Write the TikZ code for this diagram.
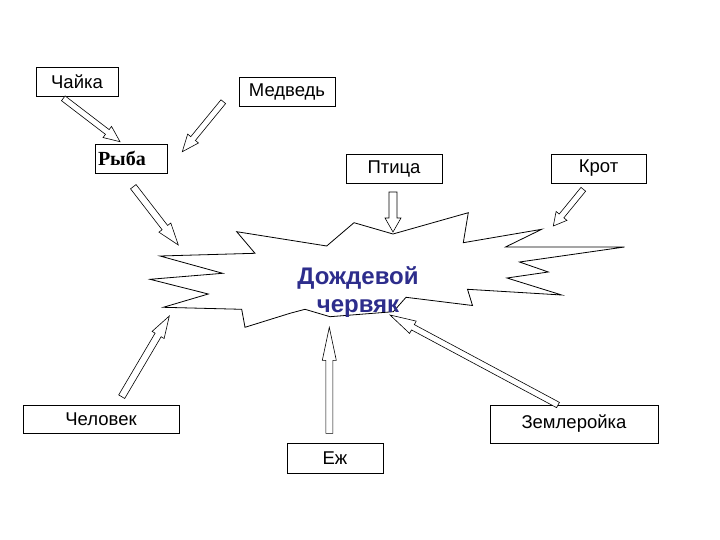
\documentclass[tikz,border=0pt]{standalone}
\usepackage{fontspec}
\setmainfont{Liberation Sans}
\newfontfamily\serifb{Liberation Serif}
\usetikzlibrary{calc}
\definecolor{wormblue}{RGB}{45,45,140}
\newcommand{\blockarr}[5]{%
  \coordinate (bN) at ($(#2)!#3!(#1)$);
  \draw[arrline] ($(#1)!#4!90:(#2)$) -- ($(bN)!#4!90:(#2)$) -- ($(bN)!#5!90:(#2)$)
    -- (#2) -- ($(bN)!#5!-90:(#2)$) -- ($(bN)!#4!-90:(#2)$) -- ($(#1)!#4!-90:(#2)$) -- cycle;
}
\begin{document}
\begin{tikzpicture}[x=1pt,y=-1pt,
  box/.style={draw, line width=0.7pt, inner sep=0pt, font=\fontsize{18.5}{22}\selectfont},
  arrline/.style={draw, line width=0.6pt, fill=white, line join=miter},
  burst/.style={draw, line width=0.8pt, fill=white}]
\useasboundingbox[fill=white] (0,0) rectangle (720,540);

% boxes
\node[box, minimum width=82pt, minimum height=29pt] (chaika) at (77,81.5) {Чайка};
\node[box, minimum width=96pt, minimum height=29pt] (medved) at (287,91.5) {Медведь};
\node[box, minimum width=72pt, minimum height=29pt, text width=66pt, align=left,
  font=\serifb\bfseries\fontsize{20}{23}\selectfont] (ryba) at (131,158.5) {Рыба};
\node[box, minimum width=96pt, minimum height=29pt] (ptica) at (394,168.5) {Птица};
\node[box, minimum width=95pt, minimum height=29pt] (krot) at (598.5,168.5) {Крот};
\node[box, minimum width=156pt, minimum height=28pt] (chelovek) at (101,419) {Человек};
\node[box, minimum width=96pt, minimum height=30pt] (ezh) at (335,458) {Еж};
\node[box, minimum width=168pt, minimum height=38pt] (zemler) at (574,424) {Землеройка};

% burst
\draw[burst] (236.7,231.7) -- (326.7,246) -- (354,222.7) -- (393,234) -- (468.3,212.7)
  -- (463.3,242.7) -- (541.7,229.3) -- (505.5,247) -- (624.5,247) -- (519.5,262)
  -- (548.3,272) -- (507,278) -- (561.7,295) -- (467.5,289.3) -- (472.5,305.5)
  -- (406,297.3) -- (393.3,311.7) -- (330,316.7) -- (305,309.3) -- (290,313.3)
  -- (245,327.3) -- (241.7,309.3) -- (163.3,307.3) -- (208.3,294) -- (150,279.3)
  -- (222.7,273.3) -- (160,256) -- (255,253.3) -- cycle;
\node[font=\bfseries\fontsize{24}{28}\selectfont, text=wormblue, align=center] (worm) at (358,292) {Дождевой\\червяк};

% arrow end points
\coordinate (a1t) at (63.3,98.3);   \coordinate (a1h) at (120,141.7);
\coordinate (a2t) at (223.3,101.7); \coordinate (a2h) at (182.3,151.7);
\coordinate (a3t) at (133.3,186.7); \coordinate (a3h) at (178.3,245);
\coordinate (a4t) at (393,192);     \coordinate (a4h) at (393,232);
\coordinate (a5t) at (583.3,189.3); \coordinate (a5h) at (553.3,226);
\coordinate (a6t) at (121.7,396.7); \coordinate (a6h) at (169.3,316);
\coordinate (a7t) at (329.3,433.3); \coordinate (a7h) at (329.3,327.3);
\coordinate (a8t) at (558,405);     \coordinate (a8h) at (390,315);

\blockarr{a1t}{a1h}{16pt}{3pt}{7pt}
\blockarr{a2t}{a2h}{17pt}{3pt}{7pt}
\blockarr{a3t}{a3h}{22pt}{3.5pt}{7.5pt}
\blockarr{a4t}{a4h}{14pt}{4pt}{8pt}
\blockarr{a5t}{a5h}{13pt}{3pt}{7pt}
\blockarr{a6t}{a6h}{22pt}{3.5pt}{7pt}
\blockarr{a7t}{a7h}{33pt}{3.5pt}{7pt}
\blockarr{a8t}{a8h}{26pt}{3pt}{7pt}
\end{tikzpicture}
\end{document}
